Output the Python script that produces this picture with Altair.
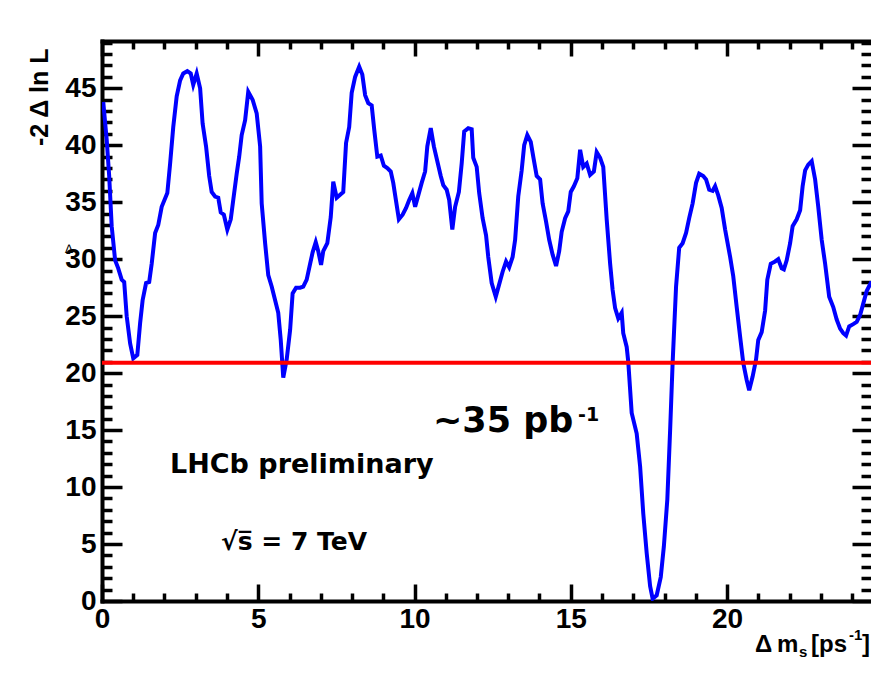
import altair as alt
import pandas as pd

# ---------------- data ----------------
delta_ms = [0.04, 0.15, 0.23, 0.31, 0.42, 0.52, 0.63, 0.71, 0.79, 0.90, 1.00, 1.13, 1.22, 1.30, 1.41,
            1.51, 1.59, 1.70, 1.80, 1.91, 2.09, 2.18, 2.28, 2.39, 2.50, 2.60, 2.73, 2.84, 2.92, 3.03,
            3.14, 3.22, 3.33, 3.43, 3.51, 3.62, 3.72, 3.80, 3.90, 4.01, 4.12, 4.20, 4.31, 4.39, 4.47,
            4.58, 4.68, 4.82, 4.95, 5.06, 5.11, 5.22, 5.32, 5.43, 5.54, 5.64, 5.72, 5.80, 5.91, 6.02,
            6.10, 6.21, 6.34, 6.44, 6.55, 6.66, 6.74, 6.84, 6.92, 7.01, 7.08, 7.21, 7.32, 7.40, 7.51,
            7.72, 7.81, 7.91, 7.99, 8.10, 8.23, 8.33, 8.42, 8.52, 8.63, 8.71, 8.81, 8.92, 9.02, 9.13,
            9.24, 9.32, 9.41, 9.50, 9.62, 9.73, 9.83, 9.93, 10.02, 10.12, 10.23, 10.34, 10.41, 10.52,
            10.62, 10.73, 10.84, 10.92, 11.03, 11.11, 11.21, 11.30, 11.42, 11.51, 11.59, 11.72, 11.83,
            11.88, 11.99, 12.07, 12.18, 12.29, 12.36, 12.47, 12.60, 12.70, 12.82, 12.93, 13.03, 13.14,
            13.22, 13.32, 13.43, 13.51, 13.61, 13.72, 13.80, 13.91, 14.02, 14.10, 14.21, 14.31, 14.42,
            14.53, 14.63, 14.71, 14.82, 14.92, 15.00, 15.10, 15.21, 15.30, 15.40, 15.51, 15.62, 15.74,
            15.83, 15.94, 16.04, 16.15, 16.26, 16.34, 16.42, 16.52, 16.63, 16.68, 16.79, 16.84, 16.95,
            17.11, 17.22, 17.32, 17.43, 17.54, 17.62, 17.75, 17.88, 17.98, 18.09, 18.18, 18.26, 18.37,
            18.47, 18.58, 18.69, 18.79, 18.90, 19.01, 19.11, 19.24, 19.33, 19.43, 19.54, 19.62, 19.72,
            19.83, 19.94, 20.10, 20.20, 20.31, 20.42, 20.52, 20.63, 20.71, 20.82, 20.93, 21.00, 21.11,
            21.22, 21.29, 21.40, 21.54, 21.64, 21.75, 21.82, 21.91, 22.02, 22.10, 22.23, 22.34, 22.42,
            22.50, 22.60, 22.71, 22.82, 22.92, 23.03, 23.14, 23.27, 23.40, 23.51, 23.62, 23.72, 23.81,
            23.91, 24.04, 24.15, 24.26, 24.36, 24.47, 24.60, 24.66, 24.74, 24.85]
minus_2_dlnL = [43.8, 40.5, 37.3, 32.9, 29.9, 29.2, 28.2, 28.0, 25.0, 22.6, 21.3, 21.6, 24.4, 26.4, 27.9,
                28.0, 29.6, 32.3, 33.0, 34.6, 35.8, 38.4, 41.6, 44.3, 45.7, 46.3, 46.5, 46.3, 45.3, 46.3,
                45.0, 41.9, 39.9, 37.3, 35.9, 35.5, 35.4, 34.1, 33.9, 32.6, 33.5, 35.2, 37.5, 39.0, 40.9,
                42.2, 44.7, 44.0, 42.8, 39.9, 34.9, 31.4, 28.6, 27.6, 26.4, 25.3, 22.9, 19.6, 21.2, 23.8,
                27.0, 27.5, 27.5, 27.6, 28.2, 29.6, 30.6, 31.5, 30.7, 29.5, 30.7, 31.4, 33.7, 36.8, 35.4,
                35.9, 40.2, 41.6, 44.6, 46.0, 46.9, 46.2, 44.4, 43.7, 43.5, 41.4, 39.0, 39.1, 38.2, 38.0,
                37.7, 36.7, 35.1, 33.5, 33.9, 34.5, 35.2, 35.8, 34.6, 35.6, 36.7, 37.7, 39.9, 41.5,
                39.9, 38.6, 37.3, 36.5, 36.1, 35.2, 32.6, 34.6, 35.9, 38.4, 41.2, 41.5, 41.4,
                38.9, 38.1, 35.8, 33.6, 32.1, 30.2, 27.9, 26.7, 27.7, 28.9, 29.8, 29.3, 30.2,
                31.7, 35.5, 37.8, 40.0, 40.9, 40.3, 39.0, 37.3, 37.0, 34.9, 33.3, 31.7, 30.4,
                29.4, 30.7, 32.4, 33.6, 34.2, 35.9, 36.4, 37.1, 39.6, 38.1, 38.4, 37.4, 37.7,
                39.4, 38.9, 38.1, 33.5, 29.6, 27.3, 25.7, 24.8, 25.3, 23.5, 22.3, 21.0, 16.5,
                14.7, 11.8, 7.7, 4.2, 1.3, 0.2, 0.5, 2.1, 4.8, 8.9, 15.0, 20.9, 27.6,
                31.0, 31.4, 32.3, 33.6, 34.9, 36.7, 37.5, 37.3, 37.0, 36.1, 36.0, 36.4, 35.6,
                34.5, 32.6, 30.2, 28.5, 25.8, 23.2, 20.9, 19.4, 18.5, 19.7, 21.2, 22.9, 23.6,
                25.5, 28.2, 29.6, 29.8, 30.0, 29.2, 29.1, 29.9, 31.4, 32.9, 33.5, 34.3, 36.4,
                37.8, 38.3, 38.6, 37.0, 34.6, 31.7, 29.6, 26.7, 25.8, 24.7, 23.9, 23.5, 23.3,
                24.1, 24.3, 24.5, 25.1, 26.1, 27.2, 27.9, 27.9, 25.8, 23.2]
limit_ms = [0.0, 24.61]
limit_level = [20.9, 20.9]

x_label_values = [0, 5, 10, 15, 20]
x_tick_values = list(range(0, 25))
y_label_values = [0, 5, 10, 15, 20, 25, 30, 35, 40, 45]
y_tick_values = list(range(0, 50))

y_title = "-2 \u0394 ln L"
x_title_parts = ["\u0394", "m", "s", "[ps", "-1", "]"]
lumi_text = ["~35 pb", "-1"]
lhcb_text = "LHCb preliminary"
energy_text = "\u221as\u0305 = 7 TeV"
stray_glyph = "\u2206"

# ---------------- layout ----------------
W, H = 769, 560
XMAX, YMAX = 24.608, 49.15
xsc = alt.Scale(domain=[0, XMAX], nice=False, zero=False)
ysc = alt.Scale(domain=[0, YMAX], nice=False, zero=False)
NUMFONT = "Liberation Sans"
TXTFONT = "DejaVu Sans"
MAJOR = "datum.value % 5 === 0"


def tick_axis(orient, offset, values, major, minor, domain=False):
    return alt.Axis(orient=orient, offset=offset, values=values, labels=False,
                    domain=domain, domainColor="black", domainWidth=4, domainCap="square",
                    grid=False, title=None, ticks=True, tickColor="black", tickWidth=3.5,
                    tickSize={"condition": {"test": MAJOR, "value": major}, "value": minor})


curve_df = pd.DataFrame({"dm": delta_ms, "nll": minus_2_dlnL})
limit_df = pd.DataFrame({"dm": limit_ms, "nll": limit_level})

curve = alt.Chart(curve_df).mark_line(color="#0000ff", strokeWidth=4, clip=True).encode(
    x=alt.X("dm:Q", scale=xsc, axis=alt.Axis(
        orient="bottom", values=x_label_values, ticks=False, tickSize=0, labelPadding=4,
        labelFont=NUMFONT, labelFontSize=28, labelFontWeight="bold", labelColor="black",
        labelFlush=False, labelOverlap=False, domainColor="black", domainWidth=4,
        domainCap="square", grid=False, title=None)),
    y=alt.Y("nll:Q", scale=ysc, axis=alt.Axis(
        orient="left", values=y_label_values, ticks=False, tickSize=0, labelPadding=6,
        labelFont=NUMFONT, labelFontSize=28, labelFontWeight="bold", labelColor="black",
        labelFlush=False, labelOverlap=False, domainColor="black", domainWidth=4,
        domainCap="square", grid=False,
        title=y_title, titleFont="Liberation Sans", titleFontSize=25, titleFontWeight="bold",
        titleColor="black", titleAngle=270, titleAlign="right", titleBaseline="middle",
        titleX=-63, titleY=7)),
)

limit = alt.Chart(limit_df).mark_line(color="#ff0000", strokeWidth=4).encode(
    x=alt.X("dm:Q", scale=xsc, axis=tick_axis("top", -H, x_tick_values, 17, 8)),
    y=alt.Y("nll:Q", scale=ysc, axis=tick_axis("right", -W, y_tick_values, 20, 10)),
)

lhcb = alt.Chart(pd.DataFrame({"label": [lhcb_text]})).mark_text(
    font=TXTFONT, fontSize=27, fontWeight="bold", color="black", align="left", baseline="alphabetic"
).encode(
    text="label:N",
    x=alt.XDatum(2.176, type="quantitative", scale=xsc,
                 axis=tick_axis("bottom", -H, x_tick_values, 15, 8, domain=True)),
    y=alt.YDatum(11.23, type="quantitative", scale=ysc,
                 axis=tick_axis("left", -W, y_tick_values, 19, 10)),
)


def label(txt, px, py, size, weight="bold", font=TXTFONT, align="left"):
    return alt.Chart(pd.DataFrame({"label": [txt]})).mark_text(
        font=font, fontSize=size, fontWeight=weight, color="black", align=align,
        baseline="alphabetic"
    ).encode(text="label:N", x=alt.value(px), y=alt.value(py))


texts = [
    label(lumi_text[0], 331, 391, 35),
    label(lumi_text[1], 476, 380, 19),
    label(energy_text, 119, 509, 25),
    label(x_title_parts[0], 653, 611, 24, font=NUMFONT),
    label(x_title_parts[1], 675, 611, 24, font=NUMFONT),
    label(x_title_parts[2], 697, 616, 15, font=NUMFONT),
    label(x_title_parts[3], 709, 611, 24, font=NUMFONT),
    label(x_title_parts[4], 747, 599, 15, font=NUMFONT),
    label(x_title_parts[5], 760, 611, 24, font=NUMFONT),
    label(stray_glyph, -33, 212, 12, weight="normal", align="center"),
]

chart = alt.layer(curve, limit, lhcb, *texts).resolve_axis(
    x="independent", y="independent"
).properties(
    width=W, height=H,
    padding={"left": 94, "top": 33, "right": 0, "bottom": 58},
    autosize=alt.AutoSizeParams(type="none"),
    background="white",
).configure_view(stroke=None)

chart.save("out.html", embed_options={"renderer": "svg", "actions": False})
